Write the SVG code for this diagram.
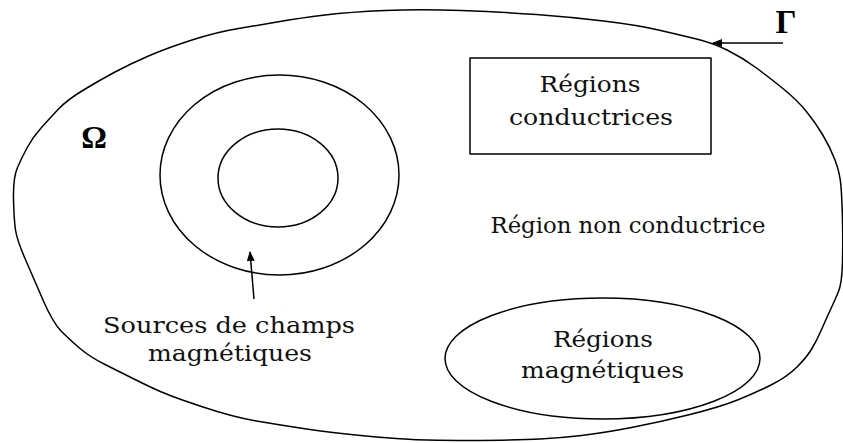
<svg xmlns="http://www.w3.org/2000/svg" width="843" height="443" viewBox="0 0 843 443">
<style>
.ln{fill:none;stroke:#000;stroke-width:1.5;stroke-linejoin:round}
.t{font-family:"DejaVu Serif","Liberation Serif",serif;font-size:23px;fill:#111;text-anchor:middle}
.b{font-family:"Liberation Serif",serif;font-weight:bold;fill:#000;text-anchor:middle}
</style>
<defs>
<marker id="ah" markerWidth="10" markerHeight="8" refX="9" refY="4" orient="auto" markerUnits="userSpaceOnUse">
<path d="M0,0 L10,4 L0,8 Z" fill="#000"/>
</marker>
</defs>
<rect width="843" height="443" fill="#fff"/>
<g id="domain">
<path class="ln" d="M461.5,10.5 Q503,12 536.5,14.5 Q570,17 603.5,21 Q637,25 658.5,30 Q680,35 696.5,39 Q713,43 728,50.5 Q743,58 756.5,68 Q770,78 783.5,89 Q797,100 806,111 Q815,122 822.5,134.5 Q830,147 835,160 Q840,173 841,186.5 Q842,200 842.5,220 Q843,240 842.5,261.5 Q842,283 838.5,291.5 Q835,300 831,308.5 Q827,317 822,328.5 Q817,340 812,348.5 Q807,357 797,367 Q787,377 771,385 Q755,393 737.5,400 Q720,407 690,414.5 Q660,422 631.5,427.5 Q603,433 581.5,435.5 Q560,438 540,439 Q520,440 470,440.5 Q420,441 376.5,437 Q333,433 306.5,429 Q280,425 256.5,421 Q233,417 203,407 Q173,397 161.5,392 Q150,387 135,379.5 Q120,372 105,364.5 Q90,357 80,348.5 Q70,340 61.5,331.5 Q53,323 43,300 Q33,277 25,258.5 Q17,240 15.5,230 Q14,220 13.5,199 Q13,178 17.5,167.5 Q22,157 27.5,147 Q33,137 41.5,127.5 Q50,118 58.5,109 Q67,100 83.5,90 Q100,80 115,72 Q130,64 148.5,56 Q167,48 192,40 Q217,32 238.5,28.5 Q260,25 280,21.5 Q300,18 325,15 Q350,12 385,10.5 Q420,9 461.5,10.5 Z"/>
<text class="b" x="94" y="148" font-size="32">Ω</text>
<text class="t" x="628" y="233" textLength="275" lengthAdjust="spacingAndGlyphs">Région non conductrice</text>
</g>
<g id="gamma">
<text class="b" x="786" y="33" font-size="33">Γ</text>
</g>
<g id="conductrices">
<rect class="ln" x="470" y="58" width="241" height="96"/>
<text class="t" x="590" y="92" textLength="101" lengthAdjust="spacingAndGlyphs">Régions</text>
<text class="t" x="591" y="125" textLength="164" lengthAdjust="spacingAndGlyphs">conductrices</text>
</g>
<g id="sources">
<ellipse class="ln" cx="279.5" cy="175" rx="119.5" ry="100"/>
<ellipse class="ln" cx="278" cy="178" rx="60" ry="49"/>
<text class="t" x="229" y="333" textLength="252" lengthAdjust="spacingAndGlyphs">Sources de champs</text>
<text class="t" x="230" y="361" textLength="164" lengthAdjust="spacingAndGlyphs">magnétiques</text>
</g>
<g id="magnetiques">
<ellipse class="ln" cx="602.5" cy="358.5" rx="157.5" ry="60.5"/>
<text class="t" x="603" y="347" textLength="100" lengthAdjust="spacingAndGlyphs">Régions</text>
<text class="t" x="602.5" y="378" textLength="163" lengthAdjust="spacingAndGlyphs">magnétiques</text>
</g>
<g id="connectors">
<line class="ln" x1="783" y1="43" x2="713" y2="43" marker-end="url(#ah)"/>
<line class="ln" x1="254" y1="299" x2="250" y2="252" marker-end="url(#ah)"/>
</g>
</svg>
